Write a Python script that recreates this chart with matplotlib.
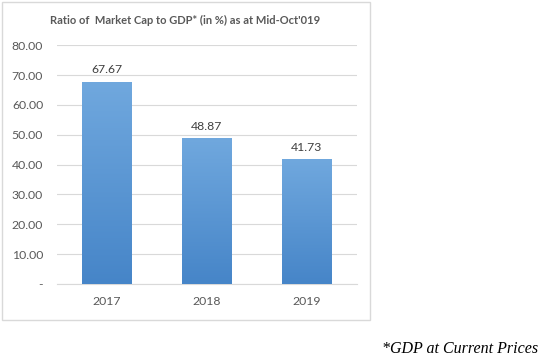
import matplotlib
matplotlib.use("Agg")
import matplotlib.pyplot as plt
import numpy as np
from matplotlib.patches import Rectangle
from matplotlib.colors import LinearSegmentedColormap

plt.rcParams['font.family'] = ['Lato', 'DejaVu Sans']

years = ["2017", "2018", "2019"]
ratios = [67.67, 48.87, 41.73]
yticks = [0, 10, 20, 30, 40, 50, 60, 70, 80]
ytick_labels = ["-", "10.00", "20.00", "30.00", "40.00", "50.00", "60.00", "70.00", "80.00"]

fig = plt.figure(figsize=(5.49, 3.64), dpi=100)
fig.patch.set_facecolor("white")

# chart border box
fig.patches.append(Rectangle((0.0036, 0.121), 0.671, 0.873, transform=fig.transFigure,
                             fill=False, edgecolor="#d9d9d9", linewidth=1.0))

ax = fig.add_axes([0.104, 0.2198, 0.546, 0.656])
x = np.arange(len(years))
bars = ax.bar(x, ratios, width=0.5, color="#5b9bd5", zorder=2)

# vertical gradient inside each bar
grad = np.linspace(0, 1, 256).reshape(-1, 1)
cmap = LinearSegmentedColormap.from_list("g", ["#4685c8", "#70a8de"])
for b in bars:
    bx, by = b.get_x(), b.get_y()
    w, h = b.get_width(), b.get_height()
    im = ax.imshow(grad, extent=[bx, bx + w, by, by + h], origin="lower",
                   cmap=cmap, aspect="auto", zorder=3)
    im.set_clip_path(b)

for xi, v in zip(x, ratios):
    ax.text(xi, v + 2.2, f"{v:.2f}", ha="center", va="bottom", fontsize=8.8, color="#404040")

ax.set_xlim(-0.5, 2.5)
ax.set_ylim(0, 80)
ax.set_yticks(yticks)
ax.set_yticklabels(ytick_labels)
ax.set_xticks(x)
ax.set_xticklabels(years)
ax.grid(axis="y", color="#d9d9d9", linewidth=0.8, zorder=0)
for s in ["top", "right", "left"]:
    ax.spines[s].set_visible(False)
ax.spines["bottom"].set_color("#d9d9d9")
ax.tick_params(axis="both", length=0, labelsize=8.8, labelcolor="#595959")
ax.tick_params(axis="y", pad=10)
ax.tick_params(axis="x", pad=9)

fig.text(0.338, 0.943, "Ratio of  Market Cap to GDP* (in %) as at Mid-Oct'019",
         ha="center", va="center", fontsize=8.0, color="#595959", fontweight="bold")

fig.text(0.981, 0.042, "*GDP at Current Prices", ha="right", va="center",
         fontsize=11.5, style="italic", family="Liberation Serif", color="black")

fig.savefig("out.png", dpi=100)
